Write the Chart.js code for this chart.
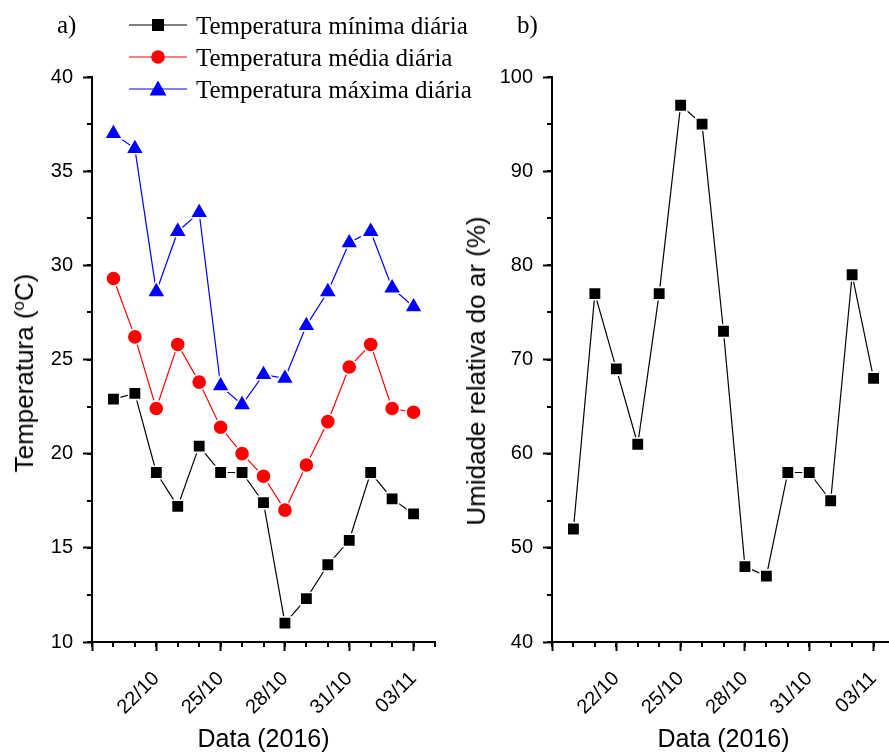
<!DOCTYPE html>
<html><head><meta charset="utf-8">
<script src="https://cdn.jsdelivr.net/npm/chart.js@4/dist/chart.umd.min.js"></script>
<style>
html,body{margin:0;padding:0;background:#fff}
#page{position:relative;width:889px;height:755px;overflow:hidden;background:#fff}
canvas{position:absolute;top:0}
#c1{left:0}
#c2{left:460px}
.serif{position:absolute;font-family:'Liberation Serif','Times New Roman',serif;font-size:25px;color:#000;line-height:1;white-space:nowrap}
.leg{position:absolute;left:129px;height:32px;display:flex;align-items:center}
.leg svg{display:block;margin-right:9px}
.ytitle{position:absolute;font-family:'Liberation Sans',Arial,sans-serif;font-size:26px;line-height:30px;color:#000;white-space:nowrap;transform:translate(-50%,-50%) rotate(-90deg)}
.ytitle sup{font-size:17px;line-height:0;vertical-align:9px}
</style></head><body>
<div id="page">
<canvas id="c1" width="460" height="755"></canvas>
<canvas id="c2" width="460" height="755"></canvas>
<div class="serif" style="left:57px;top:12px">a)</div>
<div class="serif" style="left:517px;top:12px">b)</div>
<div id="legend"></div>
<div class="ytitle" id="yt1" style="left:24px;top:373px"></div>
<div class="ytitle" id="yt2" style="left:476px;top:371px"></div>
</div>
<script>
// ---- data ----
const dates = ['20/10','21/10','22/10','23/10','24/10','25/10','26/10','27/10','28/10','29/10','30/10','31/10','01/11','02/11','03/11'];
const tempMin  = [22.9, 23.2, 19.0, 17.2, 20.4, 19.0, 19.0, 17.4, 11.0, 12.3, 14.1, 15.4, 19.0, 17.6, 16.8];
const tempMean = [29.3, 26.2, 22.4, 25.8, 23.8, 21.4, 20.0, 18.8, 17.0, 19.4, 21.7, 24.6, 25.8, 22.4, 22.2];
const tempMax  = [37.0, 36.2, 28.6, 31.8, 32.8, 23.6, 22.6, 24.2, 24.0, 26.8, 28.6, 31.2, 31.8, 28.8, 27.8];
const humidity = [52, 77, 69, 61, 77, 97, 95, 73, 48, 47, 58, 58, 55, 79, 68];
const seriesNames = ['Temperatura mínima diária','Temperatura média diária','Temperatura máxima diária'];
const seriesColors = ['#000000','#ff0000','#0000ff'];
const seriesMarkers = ['rect','circle','triangle'];
const majorDates = ['22/10','25/10','28/10','31/10','03/11'];
const tempTicks = [10,15,20,25,30,35,40];
const humTicks = [40,50,60,70,80,90,100];
const xTitle = 'Data (2016)';
const tempTitleHTML = 'Temperatura (<sup>o</sup>C)';
const humTitle = 'Umidade relativa do ar (%)';

// ---- helpers ----
const sansFont = "'Liberation Sans', Arial, sans-serif";
const markerRadius = {rect: 8.8, circle: 7.6, triangle: 10.5};

const minorTicks = {
  id: 'minorTicks',
  afterDraw(chart, args, opts) {
    const ctx = chart.ctx, xs = chart.scales.x, ys = chart.scales.y;
    ctx.save();
    ctx.strokeStyle = '#000'; ctx.lineWidth = 2;
    for (let v = xs.min; v <= xs.max + 1e-9; v += opts.xStep) {
      const px = Math.round(xs.getPixelForValue(v));
      ctx.beginPath(); ctx.moveTo(px, xs.top); ctx.lineTo(px, xs.top + 5); ctx.stroke();
    }
    for (let v = ys.min; v <= ys.max + 1e-9; v += opts.yStep) {
      const py = Math.round(ys.getPixelForValue(v));
      ctx.beginPath(); ctx.moveTo(ys.right, py); ctx.lineTo(ys.right - 5, py); ctx.stroke();
    }
    ctx.restore();
  }
};

function makeDataset(label, values, color, marker) {
  return {
    label,
    data: values.map((v, i) => ({x: i, y: v})),
    borderColor: color,
    borderWidth: 1.2,
    pointStyle: marker,
    pointRadius: markerRadius[marker],
    pointBackgroundColor: color,
    pointBorderColor: '#ffffff',
    pointBorderWidth: 1.6,
    tension: 0,
    clip: false
  };
}

function makeChart(canvas, datasets, yMin, yMax, yTicks, yMinorStep) {
  return new Chart(canvas, {
    type: 'line',
    data: {datasets},
    options: {
      responsive: false,
      animation: false,
      events: [],
      layout: {padding: {top: 77, right: 25, left: 0, bottom: 0}},
      plugins: {legend: {display: false}, tooltip: {enabled: false}, minorTicks: {xStep: 1, yStep: yMinorStep}},
      scales: {
        x: {
          type: 'linear',
          min: -1,
          max: dates.length,
          afterBuildTicks: (s) => { s.ticks = [{value: -1}].concat(majorDates.map(d => ({value: dates.indexOf(d)}))); },
          afterFit: (s) => { s.height = 113; },
          ticks: {
            autoSkip: false,
            minRotation: 45, maxRotation: 45,
            color: '#000',
            font: {family: sansFont, size: 20},
            padding: 16,
            callback: (v) => (v >= 0 && v < dates.length) ? dates[v] : ''
          },
          grid: {drawOnChartArea: false, drawTicks: true, tickLength: 9, tickWidth: 2, tickColor: '#000'},
          border: {display: true, color: '#000', width: 2},
          title: {display: true, text: xTitle, color: '#000', font: {family: sansFont, size: 25}, padding: {top: 0, bottom: 0}}
        },
        y: {
          min: yMin, max: yMax,
          afterBuildTicks: (s) => { s.ticks = yTicks.map(v => ({value: v})); },
          afterFit: (s) => { s.width = 92; },
          ticks: {color: '#000', font: {family: sansFont, size: 20}, padding: 10},
          grid: {drawOnChartArea: false, drawTicks: true, tickLength: 9, tickWidth: 2, tickColor: '#000'},
          border: {display: true, color: '#000', width: 2},
          title: {display: false}
        }
      }
    },
    plugins: [minorTicks]
  });
}

const tempSeries = [tempMin, tempMean, tempMax];
makeChart(document.getElementById('c1'),
  tempSeries.map((s, k) => makeDataset(seriesNames[k], s, seriesColors[k], seriesMarkers[k])),
  10, 40, tempTicks, 2.5);

makeChart(document.getElementById('c2'),
  [makeDataset(humTitle, humidity, '#000000', 'rect')],
  40, 100, humTicks, 5);

document.getElementById('yt1').innerHTML = tempTitleHTML;
document.getElementById('yt2').textContent = humTitle;

// ---- HTML legend ----
const legend = document.getElementById('legend');
seriesNames.forEach((name, k) => {
  const row = document.createElement('div');
  row.className = 'leg';
  row.style.top = (25 + 32 * k - 16) + 'px';
  const c = seriesColors[k];
  let mk = '';
  if (seriesMarkers[k] === 'rect') mk = `<rect x="23" y="4" width="12" height="12" fill="${c}"/>`;
  else if (seriesMarkers[k] === 'circle') mk = `<circle cx="29" cy="10" r="6.8" fill="${c}"/>`;
  else mk = `<polygon points="29,1.5 37.5,16.5 20.5,16.5" fill="${c}"/>`;
  row.innerHTML = `<svg width="58" height="20"><line x1="0" y1="10" x2="58" y2="10" stroke="${c}" stroke-width="1.2"/>${mk}</svg><span class="serif" style="position:static">${name}</span>`;
  legend.appendChild(row);
});
</script>
</body></html>
